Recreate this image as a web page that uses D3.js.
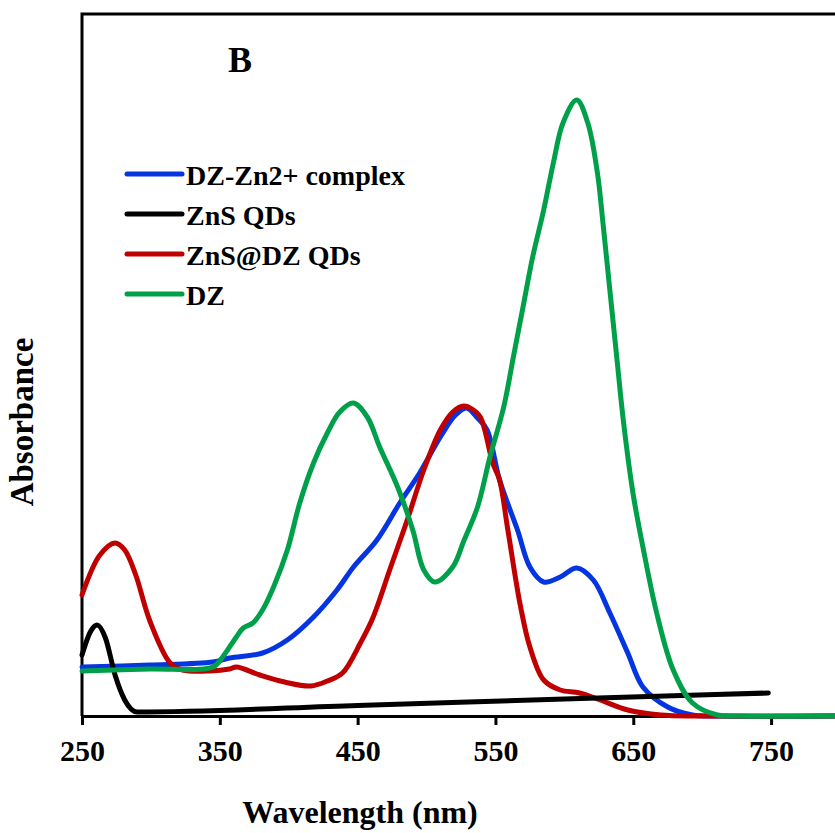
<!DOCTYPE html>
<html>
<head>
<meta charset="utf-8">
<script src="https://cdn.jsdelivr.net/npm/d3@7"></script>
<style>
  body { margin: 0; background: #fff; }
  text { font-family: 'Liberation Serif', 'Times New Roman', serif; font-weight: bold; }
</style>
</head>
<body>
<svg id="chart" width="835" height="833"></svg>
<script>
// spectra: [wavelength nm, absorbance]
const DZ_ZN = [
  [250, 0.098], [299, 0.102], [345, 0.108], [357, 0.116], [381, 0.126],
  [399, 0.152], [418, 0.198], [435, 0.252], [447, 0.298], [464, 0.352],
  [481, 0.428], [495, 0.486], [510, 0.558], [521, 0.602], [529, 0.616],
  [537, 0.596], [544, 0.572], [553, 0.472], [566, 0.372], [575, 0.298],
  [585, 0.268], [597, 0.278], [609, 0.296], [621, 0.272], [633, 0.206],
  [646, 0.126], [657, 0.058], [675, 0.018], [693, 0.002], [713, 0], [800, 0],
]

const ZNS = [
  [250, 0.122], [256, 0.168], [261, 0.182], [267, 0.156], [274, 0.082],
  [281, 0.032], [290, 0.008], [450, 0.021], [600, 0.034], [748, 0.046],
]

const ZNS_DZ = [
  [250, 0.242], [263, 0.322], [274, 0.346], [281, 0.332], [289, 0.282],
  [299, 0.192], [314, 0.106], [323, 0.092], [343, 0.090], [357, 0.094],
  [362, 0.098], [379, 0.082], [397, 0.068], [416, 0.060], [428, 0.070],
  [439, 0.086], [452, 0.146], [461, 0.196], [474, 0.298], [486, 0.392],
  [498, 0.492], [510, 0.572], [519, 0.608], [527, 0.620], [533, 0.614],
  [539, 0.598], [548, 0.506], [553, 0.472], [559, 0.372], [568, 0.222],
  [575, 0.138], [585, 0.072], [597, 0.052], [611, 0.046], [626, 0.032],
  [646, 0.012], [670, 0.002], [699, 0], [800, 0],
]

const DZ = [
  [250, 0.090], [299, 0.094], [345, 0.098], [352, 0.118], [362, 0.158],
  [367, 0.176], [374, 0.186], [381, 0.212], [389, 0.258], [399, 0.332],
  [408, 0.426], [418, 0.506], [428, 0.566], [437, 0.608], [447, 0.626],
  [457, 0.598], [466, 0.538], [479, 0.458], [490, 0.372], [498, 0.292],
  [506, 0.268], [519, 0.298], [527, 0.350], [537, 0.418], [546, 0.518],
  [556, 0.618], [563, 0.718], [570, 0.818], [577, 0.918], [585, 1.012],
  [592, 1.106], [599, 1.186], [609, 1.232], [617, 1.186], [624, 1.086],
  [628, 0.986], [633, 0.852], [638, 0.718], [643, 0.586], [650, 0.442],
  [657, 0.338], [667, 0.206], [679, 0.092], [693, 0.026], [711, 0.002],
  [728, 0], [800, 0],
]

const SERIES = [
  { name: 'DZ-Zn2+ complex', color: '#0535e0', values: DZ_ZN },
  { name: 'ZnS QDs', color: '#000000', values: ZNS },
  { name: 'ZnS@DZ QDs', color: '#c00000', values: ZNS_DZ },
  { name: 'DZ', color: '#00a04a', values: DZ },
]
const DRAW_ORDER = ['DZ-Zn2+ complex', 'ZnS@DZ QDs', 'ZnS QDs', 'DZ']
const X_TICKS = [250, 350, 450, 550, 650, 750]

const svg = d3.select('#chart')

const x = d3.scaleLinear().domain([250, 800]).range([82, 840])
const y = d3.scaleLinear().domain([0, 1.404]).range([716, 14])

// frame: left and top lines
svg.append('path')
  .attr('d', `M${x(250)},${y(0)}V${y(1.404)}H840`)
  .attr('fill', 'none')
  .attr('stroke', '#000')
  .attr('stroke-width', 3)

// x axis
const xAxis = svg.append('g')
  .attr('transform', `translate(0,${y(0)})`)
  .call(d3.axisBottom(x).tickValues(X_TICKS).tickSize(9).tickSizeOuter(0).tickPadding(15))
xAxis.select('.domain').attr('stroke-width', 3)
xAxis.selectAll('.tick line').attr('stroke-width', 3)
xAxis.selectAll('.tick text')
  .attr('font-size', 30)
  .attr('font-family', "'Liberation Serif', serif")
  .attr('font-weight', 'bold')
  .attr('fill', '#000')

// the curves (the ZnS baseline is a straight drift, so no spline there)
const smooth = d3.line()
  .x(d => x(d[0]))
  .y(d => y(d[1]))
  .curve(d3.curveCatmullRom.alpha(0.5))
const straight = d3.line()
  .x(d => x(d[0]))
  .y(d => y(d[1]))
  .curve(d3.curveMonotoneX)

svg.append('g')
  .selectAll('path')
  .data(DRAW_ORDER.map(n => SERIES.find(s => s.name === n)))
  .enter()
  .append('path')
  .attr('d', d => (d.name === 'ZnS QDs' ? straight : smooth)(d.values))
  .attr('fill', 'none')
  .attr('stroke', d => d.color)
  .attr('stroke-width', 5)
  .attr('stroke-linejoin', 'round')
  .attr('stroke-linecap', 'round')

// legend
const legend = svg.append('g')
  .attr('transform', 'translate(127,174)')

legend.selectAll('line')
  .data(SERIES)
  .enter()
  .append('line')
  .attr('x1', 0)
  .attr('x2', 55)
  .attr('y1', (d, i) => i * 40)
  .attr('y2', (d, i) => i * 40)
  .attr('stroke', d => d.color)
  .attr('stroke-width', 5)
  .attr('stroke-linecap', 'round')

legend.selectAll('text')
  .data(SERIES)
  .enter()
  .append('text')
  .attr('x', 59)
  .attr('y', (d, i) => i * 40 + 11)
  .attr('font-size', 28)
  .text(d => d.name)

// panel letter
svg.append('text')
  .attr('x', 228)
  .attr('y', 72)
  .attr('font-size', 36)
  .text('B')

// axis titles
svg.append('text')
  .attr('x', 360)
  .attr('y', 823)
  .attr('text-anchor', 'middle')
  .attr('font-size', 32)
  .text('Wavelength (nm)')

svg.append('text')
  .attr('transform', 'translate(33,422) rotate(-90)')
  .attr('text-anchor', 'middle')
  .attr('font-size', 33)
  .text('Absorbance')
</script>
</body>
</html>
